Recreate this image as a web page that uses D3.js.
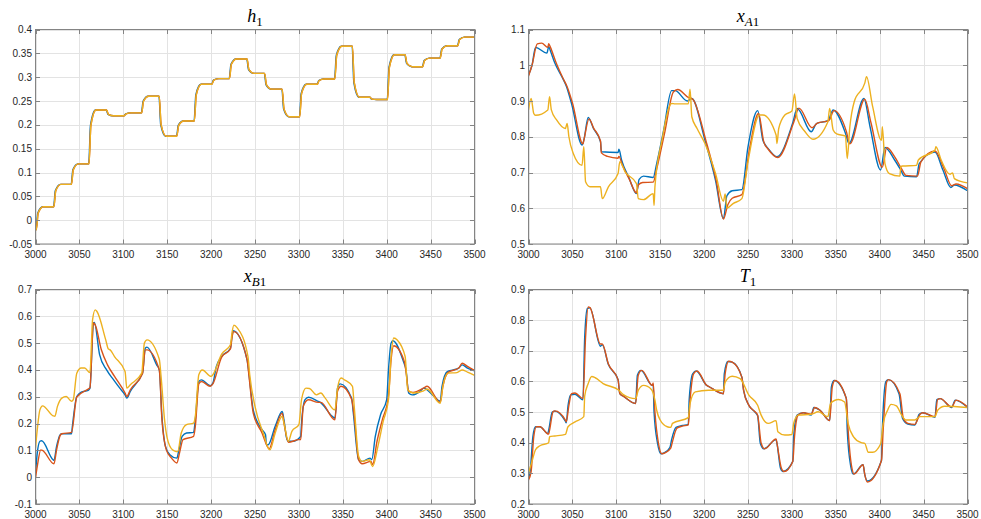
<!DOCTYPE html>
<html>
<head>
<meta charset="utf-8">
<script src="https://cdn.jsdelivr.net/npm/d3@7/dist/d3.min.js"></script>
<style>
  html, body { margin: 0; padding: 0; background: #fff; }
  svg { display: block; }
  .tick-label { font-family: "Liberation Sans", Arial, Helvetica, sans-serif; font-size: 10px; fill: #262626; }
  .title { font-family: "Liberation Serif", "Times New Roman", serif; fill: #000; }
</style>
</head>
<body>
<svg id="chart" width="981" height="519"></svg>
<script>
// ---- time axis ----
const timeDomain = [3000, 3500];
const timeTicks = [3000, 3050, 3100, 3150, 3200, 3250, 3300, 3350, 3400, 3450, 3500];

// ---- h1: step instants, plateau levels and the level reached ~2 s after each step ----
const hStart = -0.02;
const hStepT = [3000, 3020, 3040, 3060, 3080, 3100, 3120, 3140, 3160, 3180, 3200, 3220, 3240,
                3260, 3280, 3300, 3320, 3340, 3360, 3380, 3400, 3420, 3440, 3460, 3480];
const hLevel = [0.028, 0.075, 0.118, 0.231, 0.219, 0.225, 0.260, 0.176, 0.208, 0.285, 0.297, 0.338, 0.308,
                0.275, 0.217, 0.285, 0.296, 0.365, 0.258, 0.253, 0.347, 0.322, 0.340, 0.366, 0.384];
const hKnee  = [0.015, 0.062, 0.106, 0.199, 0.222, 0.223, 0.250, 0.200, 0.199, 0.263, 0.294, 0.327, 0.316,
                0.284, 0.233, 0.266, 0.293, 0.346, 0.288, 0.254, 0.321, 0.329, 0.335, 0.359, 0.379];
const hTicks = [-0.05, 0, 0.05, 0.1, 0.15, 0.2, 0.25, 0.3, 0.35, 0.4];

// ---- xA1 ----
const xA1Blue = [[3000,0.973],[3004,1.0],[3008,1.05],[3021,1.034],[3023,1.052],[3025,1.04],[3030,1.006],[3038,0.968],[3043,0.942],[3049,0.893],[3061,0.777],[3063,0.79],[3068,0.854],[3074,0.823],[3082,0.786],[3083,0.758],[3102,0.756],[3103,0.765],[3106,0.735],[3114,0.688],[3123,0.641],[3126,0.681],[3131,0.69],[3142,0.686],[3146,0.725],[3154,0.819],[3163,0.929],[3167,0.929],[3181,0.9],[3186,0.907],[3201,0.79],[3213,0.678],[3222,0.571],[3226,0.635],[3232,0.649],[3243,0.652],[3250,0.772],[3261,0.873],[3267,0.79],[3273,0.767],[3283,0.744],[3301,0.839],[3306,0.879],[3322,0.814],[3328,0.837],[3341,0.845],[3347,0.875],[3361,0.81],[3365,0.781],[3382,0.907],[3389,0.828],[3401,0.707],[3406,0.77],[3417,0.735],[3424,0.707],[3428,0.69],[3442,0.688],[3445,0.725],[3463,0.757],[3472,0.707],[3481,0.658],[3485,0.665],[3500,0.649]];
const xA1Red = [[3000,0.97],[3004,1.0],[3010,1.06],[3015,1.062],[3022,1.05],[3023,1.06],[3025,1.05],[3031,1.01],[3040,0.96],[3044,0.94],[3050,0.895],[3062,0.78],[3063,0.79],[3069,0.85],[3074,0.825],[3082,0.788],[3083,0.755],[3090,0.745],[3102,0.74],[3103,0.745],[3107,0.72],[3115,0.68],[3123,0.643],[3125,0.665],[3130,0.672],[3142,0.673],[3146,0.71],[3155,0.81],[3165,0.925],[3170,0.932],[3182,0.91],[3187,0.905],[3202,0.79],[3214,0.675],[3222,0.57],[3227,0.61],[3232,0.628],[3243,0.638],[3252,0.77],[3262,0.865],[3268,0.785],[3273,0.765],[3284,0.742],[3302,0.84],[3308,0.88],[3323,0.825],[3329,0.838],[3342,0.845],[3348,0.873],[3362,0.815],[3366,0.78],[3383,0.905],[3390,0.84],[3403,0.715],[3408,0.77],[3418,0.74],[3425,0.71],[3430,0.692],[3443,0.69],[3447,0.73],[3463,0.76],[3473,0.712],[3482,0.663],[3487,0.668],[3500,0.655]];
const xA1Yellow = [[3000,0.875],[3003,0.907],[3006,0.865],[3008,0.86],[3022,0.875],[3024,0.912],[3026,0.875],[3032,0.847],[3042,0.823],[3044,0.837],[3046,0.8],[3051,0.753],[3061,0.72],[3063,0.772],[3065,0.674],[3070,0.66],[3082,0.66],[3084,0.627],[3091,0.66],[3102,0.697],[3104,0.73],[3110,0.702],[3123,0.669],[3125,0.627],[3131,0.624],[3142,0.641],[3143,0.608],[3144,0.66],[3152,0.79],[3163,0.893],[3167,0.892],[3182,0.892],[3184,0.933],[3186,0.856],[3192,0.823],[3201,0.781],[3213,0.697],[3222,0.62],[3224,0.64],[3226,0.6],[3233,0.613],[3243,0.627],[3250,0.73],[3263,0.861],[3267,0.861],[3282,0.805],[3283,0.781],[3285,0.823],[3292,0.861],[3300,0.872],[3303,0.92],[3306,0.851],[3315,0.814],[3324,0.793],[3341,0.842],[3343,0.879],[3347,0.819],[3351,0.808],[3361,0.802],[3363,0.739],[3366,0.828],[3371,0.898],[3383,0.95],[3385,0.968],[3392,0.884],[3402,0.79],[3403,0.828],[3406,0.725],[3411,0.697],[3423,0.69],[3424,0.716],[3426,0.718],[3442,0.72],[3444,0.735],[3463,0.763],[3464,0.772],[3470,0.735],[3480,0.695],[3483,0.699],[3485,0.683],[3500,0.671]];
const xA1Ticks = [0.5, 0.6, 0.7, 0.8, 0.9, 1, 1.1];

// ---- xB1 ----
const xB1Blue = [[3000,0.016],[3002,0.09],[3005,0.134],[3007,0.136],[3020,0.065],[3021,0.063],[3024,0.115],[3028,0.158],[3030,0.162],[3041,0.162],[3042,0.19],[3047,0.301],[3052,0.317],[3060,0.324],[3062,0.332],[3066,0.575],[3067,0.577],[3073,0.457],[3081,0.4],[3089,0.363],[3096,0.332],[3102,0.307],[3104,0.295],[3108,0.32],[3121,0.382],[3122,0.39],[3125,0.481],[3127,0.485],[3138,0.419],[3141,0.4],[3144,0.227],[3148,0.115],[3153,0.084],[3161,0.071],[3163,0.096],[3167,0.152],[3172,0.165],[3180,0.167],[3182,0.214],[3186,0.357],[3189,0.363],[3199,0.341],[3202,0.351],[3206,0.413],[3212,0.45],[3222,0.481],[3224,0.531],[3225,0.546],[3241,0.438],[3243,0.388],[3248,0.251],[3258,0.177],[3262,0.158],[3263,0.121],[3265,0.121],[3273,0.19],[3281,0.245],[3283,0.214],[3286,0.146],[3288,0.134],[3293,0.134],[3302,0.152],[3303,0.202],[3307,0.289],[3311,0.298],[3322,0.283],[3324,0.28],[3338,0.227],[3341,0.22],[3344,0.332],[3347,0.348],[3360,0.295],[3362,0.239],[3368,0.065],[3372,0.059],[3381,0.071],[3383,0.065],[3387,0.152],[3393,0.233],[3400,0.289],[3402,0.4],[3405,0.5],[3407,0.509],[3419,0.432],[3422,0.4],[3425,0.314],[3429,0.307],[3438,0.32],[3442,0.332],[3454,0.301],[3461,0.283],[3463,0.339],[3469,0.394],[3476,0.4],[3482,0.407],[3486,0.419],[3492,0.407],[3500,0.397]];
const xB1Red = [[3000,-0.003],[3002,0.04],[3006,0.102],[3008,0.1],[3021,0.05],[3024,0.102],[3028,0.155],[3030,0.162],[3041,0.167],[3047,0.299],[3060,0.329],[3062,0.334],[3066,0.575],[3068,0.568],[3075,0.475],[3082,0.419],[3090,0.376],[3102,0.314],[3104,0.301],[3108,0.326],[3122,0.388],[3125,0.475],[3127,0.475],[3141,0.4],[3144,0.214],[3149,0.102],[3155,0.071],[3161,0.053],[3164,0.09],[3168,0.14],[3180,0.152],[3182,0.189],[3186,0.348],[3189,0.357],[3199,0.339],[3202,0.348],[3212,0.448],[3222,0.478],[3224,0.525],[3226,0.543],[3241,0.438],[3243,0.382],[3248,0.239],[3258,0.165],[3264,0.115],[3266,0.105],[3273,0.177],[3281,0.239],[3283,0.202],[3288,0.13],[3300,0.14],[3302,0.14],[3305,0.264],[3308,0.283],[3311,0.289],[3322,0.279],[3325,0.279],[3341,0.214],[3344,0.32],[3348,0.339],[3360,0.291],[3363,0.227],[3368,0.065],[3372,0.05],[3382,0.059],[3384,0.047],[3389,0.134],[3395,0.214],[3402,0.301],[3405,0.438],[3408,0.49],[3420,0.432],[3422,0.394],[3425,0.32],[3430,0.316],[3442,0.332],[3446,0.339],[3461,0.279],[3464,0.339],[3470,0.391],[3482,0.407],[3486,0.425],[3492,0.413],[3500,0.398]];
const xB1Yellow = [[3000,0.109],[3002,0.177],[3005,0.251],[3008,0.266],[3020,0.229],[3022,0.227],[3025,0.264],[3030,0.295],[3035,0.301],[3041,0.283],[3043,0.289],[3047,0.388],[3052,0.407],[3056,0.407],[3062,0.39],[3065,0.587],[3068,0.624],[3070,0.618],[3080,0.512],[3083,0.478],[3085,0.475],[3090,0.45],[3102,0.394],[3104,0.332],[3108,0.345],[3121,0.388],[3124,0.5],[3127,0.512],[3141,0.44],[3143,0.376],[3147,0.214],[3150,0.146],[3156,0.102],[3160,0.096],[3162,0.096],[3166,0.165],[3172,0.196],[3180,0.202],[3182,0.227],[3186,0.382],[3190,0.4],[3200,0.376],[3202,0.382],[3212,0.459],[3222,0.494],[3224,0.543],[3226,0.567],[3230,0.556],[3242,0.45],[3244,0.382],[3250,0.264],[3260,0.158],[3265,0.109],[3267,0.102],[3273,0.165],[3281,0.227],[3283,0.202],[3288,0.134],[3292,0.171],[3300,0.196],[3303,0.289],[3308,0.332],[3312,0.331],[3320,0.307],[3325,0.314],[3330,0.295],[3341,0.251],[3344,0.332],[3348,0.37],[3352,0.363],[3361,0.339],[3363,0.264],[3368,0.078],[3372,0.059],[3380,0.065],[3384,0.04],[3390,0.115],[3396,0.208],[3402,0.289],[3405,0.45],[3408,0.519],[3412,0.512],[3421,0.45],[3424,0.326],[3430,0.314],[3442,0.322],[3446,0.329],[3461,0.276],[3464,0.339],[3470,0.388],[3480,0.39],[3486,0.4],[3492,0.392],[3500,0.38]];
const xB1Ticks = [-0.1, 0, 0.1, 0.2, 0.3, 0.4, 0.5, 0.6, 0.7];

// ---- T1 ----
const T1Blue = [[3000,0.285],[3002,0.31],[3005,0.42],[3008,0.452],[3013,0.452],[3022,0.43],[3023,0.441],[3027,0.5],[3030,0.503],[3042,0.47],[3043,0.465],[3045,0.52],[3048,0.556],[3053,0.558],[3062,0.54],[3064,0.744],[3067,0.838],[3070,0.84],[3082,0.715],[3084,0.72],[3091,0.655],[3102,0.606],[3104,0.56],[3108,0.552],[3122,0.528],[3124,0.62],[3128,0.636],[3141,0.587],[3142,0.59],[3143,0.5],[3147,0.398],[3151,0.364],[3155,0.368],[3161,0.384],[3163,0.41],[3168,0.45],[3175,0.456],[3182,0.46],[3183,0.54],[3187,0.625],[3191,0.634],[3203,0.587],[3205,0.584],[3222,0.56],[3223,0.625],[3227,0.665],[3232,0.663],[3243,0.614],[3245,0.571],[3251,0.522],[3258,0.5],[3261,0.488],[3264,0.398],[3268,0.38],[3282,0.41],[3283,0.398],[3287,0.317],[3290,0.306],[3301,0.339],[3302,0.42],[3306,0.49],[3313,0.498],[3322,0.49],[3325,0.515],[3332,0.506],[3343,0.472],[3345,0.582],[3348,0.603],[3362,0.544],[3363,0.443],[3367,0.323],[3370,0.298],[3381,0.328],[3383,0.296],[3386,0.275],[3402,0.342],[3403,0.443],[3407,0.599],[3410,0.606],[3422,0.56],[3426,0.479],[3432,0.461],[3440,0.458],[3445,0.493],[3449,0.498],[3463,0.483],[3465,0.541],[3469,0.544],[3482,0.515],[3486,0.539],[3500,0.515]];
const T1Red = [[3000,0.279],[3003,0.306],[3006,0.42],[3009,0.452],[3013,0.452],[3023,0.428],[3024,0.441],[3028,0.501],[3030,0.504],[3042,0.474],[3043,0.468],[3046,0.522],[3049,0.56],[3053,0.562],[3062,0.544],[3065,0.744],[3068,0.843],[3070,0.841],[3082,0.722],[3084,0.722],[3091,0.657],[3102,0.606],[3104,0.56],[3108,0.552],[3122,0.528],[3125,0.62],[3129,0.636],[3141,0.587],[3142,0.595],[3144,0.5],[3148,0.398],[3152,0.364],[3156,0.368],[3162,0.382],[3164,0.404],[3169,0.447],[3175,0.454],[3182,0.458],[3184,0.539],[3188,0.625],[3192,0.634],[3203,0.587],[3205,0.584],[3222,0.56],[3224,0.625],[3228,0.666],[3232,0.663],[3243,0.614],[3245,0.571],[3251,0.522],[3258,0.501],[3261,0.49],[3265,0.398],[3269,0.38],[3282,0.412],[3283,0.398],[3288,0.317],[3291,0.306],[3301,0.339],[3303,0.42],[3307,0.49],[3313,0.498],[3322,0.493],[3326,0.515],[3332,0.506],[3343,0.472],[3346,0.582],[3349,0.603],[3362,0.544],[3364,0.443],[3368,0.323],[3371,0.298],[3381,0.328],[3383,0.296],[3386,0.272],[3402,0.342],[3404,0.443],[3408,0.599],[3410,0.606],[3423,0.56],[3427,0.479],[3432,0.463],[3440,0.46],[3446,0.493],[3449,0.498],[3463,0.485],[3466,0.541],[3469,0.544],[3482,0.517],[3487,0.539],[3500,0.517]];
const T1Yellow = [[3000,0.301],[3004,0.339],[3008,0.377],[3013,0.39],[3023,0.4],[3024,0.42],[3030,0.422],[3042,0.427],[3045,0.452],[3053,0.468],[3063,0.485],[3064,0.552],[3068,0.593],[3072,0.616],[3076,0.612],[3085,0.593],[3103,0.571],[3108,0.557],[3122,0.544],[3125,0.571],[3131,0.587],[3140,0.574],[3144,0.539],[3146,0.506],[3150,0.474],[3158,0.452],[3162,0.45],[3164,0.463],[3182,0.482],[3184,0.528],[3190,0.566],[3205,0.571],[3222,0.571],[3224,0.598],[3232,0.617],[3241,0.609],[3251,0.555],[3261,0.522],[3265,0.49],[3273,0.463],[3282,0.472],[3284,0.436],[3292,0.425],[3300,0.427],[3302,0.463],[3307,0.49],[3322,0.493],[3330,0.501],[3341,0.485],[3344,0.528],[3353,0.541],[3360,0.533],[3364,0.463],[3370,0.42],[3379,0.4],[3383,0.398],[3387,0.369],[3392,0.369],[3401,0.396],[3404,0.463],[3409,0.506],[3413,0.525],[3419,0.52],[3425,0.49],[3430,0.474],[3440,0.474],[3446,0.485],[3463,0.485],[3466,0.506],[3474,0.519],[3500,0.515]];
const T1Ticks = [0.2, 0.3, 0.4, 0.5, 0.6, 0.7, 0.8, 0.9];

// ---- colours (MATLAB default order) ----
const colBlue = "#0072BD", colRed = "#D95319", colYellow = "#EDB120";

// h1 staircase as point lists; blue responds a fraction ahead of the other two
function stairPoints(rise, settle, lag) {
  const pts = [[3000, hStart]];
  let prev = hStart;
  hStepT.forEach((t, i) => {
    pts.push([t + lag, prev]);
    pts.push([t + lag + rise, hKnee[i]]);
    pts.push([t + lag + settle, hLevel[i]]);
    prev = hLevel[i];
  });
  pts.push([3500, prev]);
  return pts;
}
const h1Blue = stairPoints(2.0, 7.6, 0.6);
const h1Red = stairPoints(2.2, 8, 0.9);
const h1Yellow = stairPoints(2.2, 8, 0.9);

const panels = [
  { left: 35.5,  top: 29.5,  title: "h1",  domain: [-0.05, 0.4], ticks: hTicks,   series: [h1Blue, h1Red, h1Yellow] },
  { left: 528.5, top: 29.5,  title: "xA1", domain: [0.5, 1.1],   ticks: xA1Ticks, series: [xA1Blue, xA1Red, xA1Yellow] },
  { left: 35.5,  top: 289.5, title: "xB1", domain: [-0.1, 0.7],  ticks: xB1Ticks, series: [xB1Blue, xB1Red, xB1Yellow] },
  { left: 528.5, top: 289.5, title: "T1",  domain: [0.2, 0.9],   ticks: T1Ticks,  series: [T1Blue, T1Red, T1Yellow] }
];
const W = 439, H = 214.5, tickLen = 4.5;
const colours = [colBlue, colRed, colYellow];

const svg = d3.select("#chart");

panels.forEach((p, pi) => {
  const x = d3.scaleLinear().domain(timeDomain).range([p.left, p.left + W]);
  const y = d3.scaleLinear().domain(p.domain).range([p.top + H, p.top]);
  const g = svg.append("g");

  // grid
  g.selectAll(".gx").data(timeTicks).enter().append("line")
    .attr("x1", d => Math.round(x(d)) + 0.5).attr("x2", d => Math.round(x(d)) + 0.5)
    .attr("y1", p.top).attr("y2", p.top + H)
    .attr("stroke", "#e3e3e3").attr("stroke-width", 1);
  g.selectAll(".gy").data(p.ticks).enter().append("line")
    .attr("y1", d => Math.round(y(d)) + 0.5).attr("y2", d => Math.round(y(d)) + 0.5)
    .attr("x1", p.left).attr("x2", p.left + W)
    .attr("stroke", "#e3e3e3").attr("stroke-width", 1);

  // data
  const clipId = "clip" + pi;
  svg.append("clipPath").attr("id", clipId).append("rect")
    .attr("x", p.left).attr("y", p.top).attr("width", W).attr("height", H);
  const line = d3.line().x(d => x(d[0])).y(d => y(d[1])).curve(d3.curveMonotoneX);
  const lg = g.append("g").attr("clip-path", `url(#${clipId})`);
  p.series.forEach((s, si) => {
    lg.append("path").datum(s).attr("d", line)
      .attr("fill", "none").attr("stroke", colours[si])
      .attr("stroke-width", 1.4).attr("stroke-linejoin", "round");
  });

  // box and inward ticks on all four sides
  const axCol = "#848484";
  g.append("rect").attr("x", p.left).attr("y", p.top).attr("width", W).attr("height", H)
    .attr("fill", "none").attr("stroke", axCol).attr("stroke-width", 1);
  timeTicks.forEach(t => {
    const xx = Math.round(x(t)) + 0.5;
    g.append("line").attr("x1", xx).attr("x2", xx).attr("y1", p.top + H).attr("y2", p.top + H - tickLen).attr("stroke", axCol);
    g.append("line").attr("x1", xx).attr("x2", xx).attr("y1", p.top).attr("y2", p.top + tickLen).attr("stroke", axCol);
    g.append("text").attr("class", "tick-label").attr("x", x(t)).attr("y", p.top + H + 14)
      .attr("text-anchor", "middle").text(t);
  });
  p.ticks.forEach(v => {
    const yy = Math.round(y(v)) + 0.5;
    g.append("line").attr("x1", p.left).attr("x2", p.left + tickLen).attr("y1", yy).attr("y2", yy).attr("stroke", axCol);
    g.append("line").attr("x1", p.left + W).attr("x2", p.left + W - tickLen).attr("y1", yy).attr("y2", yy).attr("stroke", axCol);
    g.append("text").attr("class", "tick-label").attr("x", p.left - 3.5).attr("y", y(v) + 3.5)
      .attr("text-anchor", "end").text(String(v));
  });

  // title with subscript
  const tt = g.append("text").attr("class", "title")
    .attr("x", p.left + W / 2).attr("y", p.top - 8).attr("text-anchor", "middle")
    .attr("font-size", 18);
  const main = p.title[0];
  const sub = p.title.slice(1);
  tt.append("tspan").attr("font-style", "italic").text(main);
  if (sub.length === 2) {
    tt.append("tspan").attr("font-style", "italic").attr("font-size", 13).attr("dy", 4).text(sub[0]);
    tt.append("tspan").attr("font-size", 13).text(sub[1]);
  } else {
    tt.append("tspan").attr("font-size", 13).attr("dy", 4).text(sub);
  }
});
</script>
</body>
</html>
